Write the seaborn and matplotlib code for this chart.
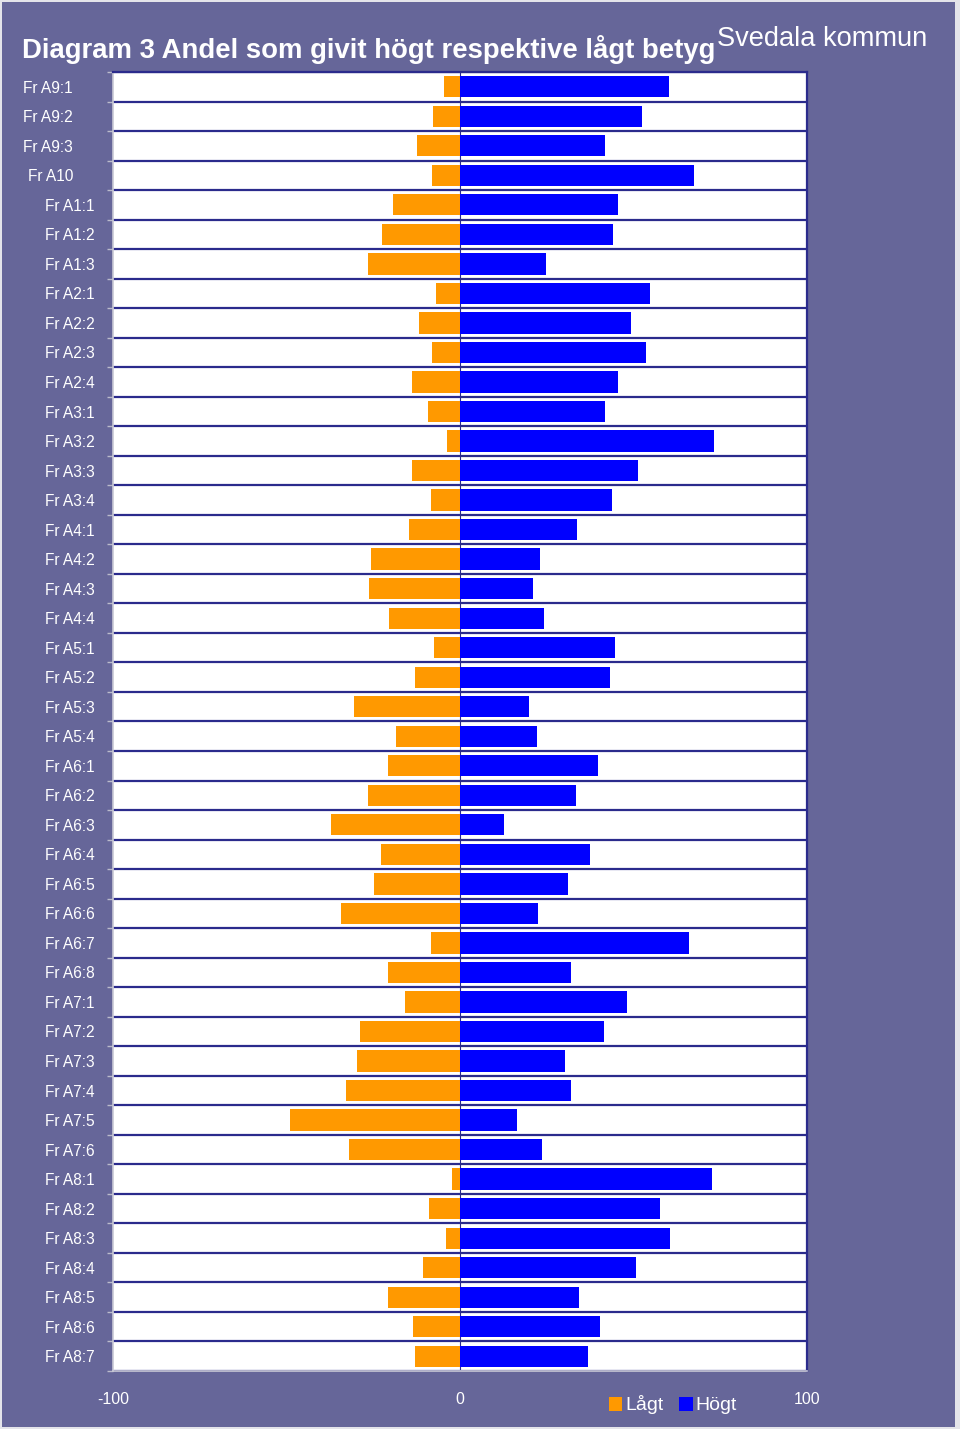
import matplotlib
matplotlib.use("Agg")
import matplotlib.pyplot as plt
import matplotlib.patches as mpatches
import matplotlib.transforms as mtransforms
import seaborn as sns
import pandas as pd

categories = ["Fr A9:1", "Fr A9:2", "Fr A9:3", "Fr A10",
              "Fr A1:1", "Fr A1:2", "Fr A1:3",
              "Fr A2:1", "Fr A2:2", "Fr A2:3", "Fr A2:4",
              "Fr A3:1", "Fr A3:2", "Fr A3:3", "Fr A3:4",
              "Fr A4:1", "Fr A4:2", "Fr A4:3", "Fr A4:4",
              "Fr A5:1", "Fr A5:2", "Fr A5:3", "Fr A5:4",
              "Fr A6:1", "Fr A6:2", "Fr A6:3", "Fr A6:4", "Fr A6:5", "Fr A6:6", "Fr A6:7", "Fr A6:8",
              "Fr A7:1", "Fr A7:2", "Fr A7:3", "Fr A7:4", "Fr A7:5", "Fr A7:6",
              "Fr A8:1", "Fr A8:2", "Fr A8:3", "Fr A8:4", "Fr A8:5", "Fr A8:6", "Fr A8:7"]
lagt = [4.6, 7.8, 12.4, 8.1,
        19.3, 22.5, 26.5,
        6.9, 11.8, 8.1, 13.8,
        9.2, 3.7, 13.8, 8.4,
        14.7, 25.6, 26.2, 20.5,
        7.5, 13.0, 30.5, 18.4,
        20.7, 26.5, 37.2, 22.8, 24.8, 34.3, 8.4, 20.7,
        15.9, 28.8, 29.7, 32.9, 49.0, 32.0,
        2.3, 8.9, 4.0, 10.7, 20.7, 13.5, 13.0]
hogt = [60.2, 52.4, 41.8, 67.4,
        45.5, 44.1, 24.8,
        54.8, 49.3, 53.6, 45.5,
        41.8, 73.2, 51.3, 43.8,
        33.7, 23.1, 21.0, 24.2,
        44.7, 43.2, 19.9, 22.2,
        39.8, 33.4, 12.7, 37.5, 31.1, 22.5, 66.0, 32.0,
        48.1, 41.5, 30.3, 32.0, 16.4, 23.6,
        72.6, 57.6, 60.5, 50.7, 34.3, 40.3, 36.9]
series = ["Lågt", "Högt"]
xticks = [-100, 0, 100]

BG = "#666699"
NAVY = "#2b2b8c"
ORANGE = "#FF9900"
BLUE = "#0000FF"

df = pd.DataFrame({
    "Fråga": categories * 2,
    "Serie": [series[0]] * len(categories) + [series[1]] * len(categories),
    "Andel": [-v for v in lagt] + hogt,
})

sns.set_theme(style="white")
plt.rcParams["font.family"] = ["Liberation Sans", "DejaVu Sans"]

W, H = 960, 1429
fig = plt.figure(figsize=(W / 100, H / 100), dpi=100)
fig.patch.set_facecolor("#e4e4ea")
fig.patches.append(mpatches.Rectangle((2 / W, 2 / H), 953 / W, 1425 / H,
                                      transform=fig.transFigure, facecolor=BG,
                                      edgecolor="none", zorder=-10))

L, R, T, B = 113, 807, 72, 1371
ax = fig.add_axes([L / W, 1 - B / H, (R - L) / W, (B - T) / H])
ax.set_facecolor("white")

sns.barplot(data=df, x="Andel", y="Fråga", hue="Serie", order=categories,
            hue_order=series, palette=[ORANGE, BLUE], dodge=False,
            orient="h", width=0.72, ax=ax, legend=True, saturation=1,
            linewidth=0)

n = len(categories)
ax.set_xlim(-100, 100)
ax.set_ylim(n - 0.5, -0.5)
ax.axvline(0, color=NAVY, lw=0.8, zorder=0.5)

# row separators at category boundaries
ax.set_yticks([i - 0.5 for i in range(n + 1)])
ax.set_yticklabels([])
ax.set_axisbelow(True)
ax.grid(True, which="major", axis="y", color=NAVY, lw=1.6)
ax.grid(False, axis="x")
ax.tick_params(axis="y", which="major", left=True, length=4, color="#bbbbcc", width=1)

ax.set_xticks(xticks)
ax.set_xticklabels([str(t) for t in xticks], color="white", fontsize=11.5)
ax.tick_params(axis="x", length=0, pad=15)
ax.set_xlabel("")
ax.set_ylabel("")

for side in ["top", "right"]:
    ax.spines[side].set_color(NAVY)
    ax.spines[side].set_linewidth(1.6)
for side in ["left", "bottom"]:
    ax.spines[side].set_color("#c8c8d4")
    ax.spines[side].set_linewidth(1.2)

# category labels
trans = mtransforms.blended_transform_factory(fig.transFigure, ax.transData)
for i, c in enumerate(categories):
    if i < 3:
        xpix = 23
    elif i == 3:
        xpix = 28
    else:
        xpix = 45
    ax.text(xpix / W, i, c, transform=trans, ha="left", va="center_baseline",
            color="white", fontsize=11.2, clip_on=False)

# legend
handles, labels = ax.get_legend_handles_labels()
ax.get_legend().remove()
leg = fig.legend(handles, labels, loc="center", bbox_to_anchor=(673 / W, 1 - 1405 / H),
                 ncol=2, frameon=False, fontsize=14, labelcolor="white",
                 handlelength=0.7, handleheight=0.7, handletextpad=0.15,
                 columnspacing=0.8)
for h in leg.legend_handles:
    h.set_edgecolor("none")

fig.text(22 / W, 1 - 58 / H, "Diagram 3 Andel som givit högt respektive lågt betyg",
         color="white", fontsize=19.8, fontweight="bold", ha="left", va="baseline")
fig.text(927 / W, 1 - 46 / H, "Svedala kommun", color="white", fontsize=19.6,
         ha="right", va="baseline")

fig.savefig("out.png", dpi=100, facecolor=fig.get_facecolor())
